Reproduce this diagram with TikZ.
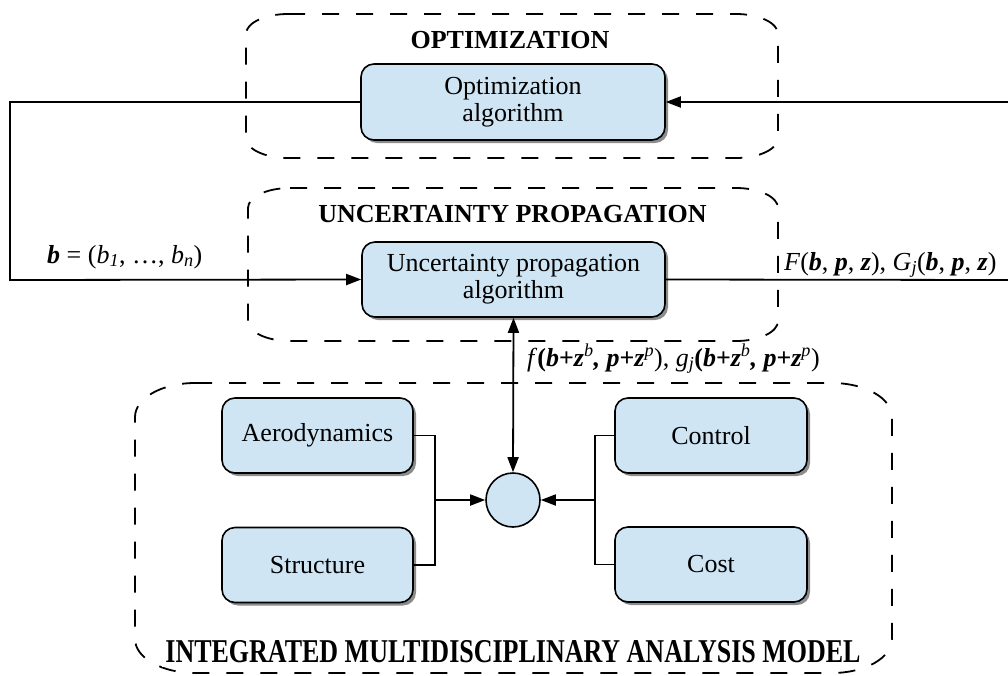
\documentclass[tikz,border=0pt]{standalone}
\usepackage{fontspec}
\usepackage{graphicx}
\setmainfont{Liberation Serif}
\usetikzlibrary{arrows.meta,shadows}
\definecolor{boxblue}{RGB}{207,229,244}
\newcommand\dashedframe[6]{%
  \draw[frame] (#1+#5,#2) -- (#3-#5,#2)
    .. controls (#3-0.448*#5,#2) and (#3,#2+0.448*#6) .. (#3,#2+#6)
    -- (#3,#4-#6)
    .. controls (#3,#4-0.448*#6) and (#3-0.448*#5,#4) .. (#3-#5,#4)
    -- (#1+#5,#4)
    .. controls (#1+0.448*#5,#4) and (#1,#4-0.448*#6) .. (#1,#4-#6)
    -- (#1,#2+#6)
    .. controls (#1,#2+0.448*#6) and (#1+0.448*#5,#2) .. cycle;}
\newcommand\bi[1]{\textbf{\textit{#1}}}
\begin{document}
\begin{tikzpicture}[x=1pt,y=-1pt,
  every node/.style={font=\fontsize{26}{27}\selectfont},
  frame/.style={draw=black, line width=1.8pt, dash pattern=on 17pt off 17pt},
  module/.style={draw=black, line width=1.6pt, fill=boxblue, rounded corners=13pt,
    align=center, inner sep=0pt,
    drop shadow={shadow xshift=3pt, shadow yshift=-3pt, fill=black!45, opacity=1}},
  title/.style={font=\fontsize{26}{27}\selectfont\bfseries, anchor=base},
  conn/.style={draw=black, line width=1.8pt},
  tip/.style={-{Triangle[length=15pt,width=11pt]}},
  lbl/.style={anchor=base west, inner sep=0pt}
]
\useasboundingbox (0,0) rectangle (1008,675);

% containers
\dashedframe{246}{14}{778}{158}{42}{20}
\dashedframe{248}{188}{778}{341}{42}{20}
\dashedframe{135}{383}{892}{673}{60}{34}

% titles
\node[title] (t1) at (510,48) {OPTIMIZATION};
\node[title] (t2) at (512.5,222) {UNCERTAINTY PROPAGATION};
\node[font=\fontsize{26}{27}\selectfont\bfseries, fill=white, inner xsep=3pt, inner ysep=4pt]
  (t3) at (513,652) {\scalebox{1}[1.28]{INTEGRATED MULTIDISCIPLINARY ANALYSIS MODEL}};

% modules
\node[module, minimum width=304pt, minimum height=76pt] (opt) at (513,102) {Optimization\\algorithm};
\node[module, minimum width=303pt, minimum height=75pt] (unc) at (513.5,279.5) {Uncertainty propagation\\algorithm};
\node[module, minimum width=191pt, minimum height=75pt] (aero) at (317.5,435.5) {Aerodynamics};
\node[module, minimum width=191pt, minimum height=75pt] (str) at (317.5,565) {Structure};
\node[module, minimum width=192pt, minimum height=75pt] (ctl) at (711,435.5) {Control};
\node[module, minimum width=192pt, minimum height=75pt] (cost) at (711,564.5) {Cost};
\node[circle, draw=black, line width=1.6pt, fill=boxblue, minimum size=54pt, inner sep=0pt] (hub) at (513,500) {};

% connector corner points
\coordinate (L1) at (10,102);
\coordinate (L2) at (10,280);
\coordinate (R1) at (1008,102);
\coordinate (R2) at (1008,280);
\coordinate (LB1) at (435,435.5);
\coordinate (LB2) at (435,565);
\coordinate (LM) at (435,500);
\coordinate (RB1) at (595,435.5);
\coordinate (RB2) at (595,564.5);
\coordinate (RM) at (595,500);

% connectors
\draw[conn, tip] (opt.west) -- (L1) -- (L2) -- (unc.west);
\draw[conn, tip] (R1) -- (opt.east);
\draw[conn] (unc.east) -- (R2);
\draw[conn, {Triangle[length=15pt,width=11pt]}-{Triangle[length=15pt,width=11pt]}] (unc.south) -- (hub.north);
\draw[conn] (aero.east) -- (LB1) -- (LB2) -- (str.east);
\draw[conn, tip] (LM) -- (hub.west);
\draw[conn] (ctl.west) -- (RB1) -- (RB2) -- (cost.west);
\draw[conn, tip] (RM) -- (hub.east);

% labels
\node[lbl] (lb) at (47,263) {\bi{b} = (\textit{b}\textsubscript{\textit{1}}, \dots, \textit{b}\textsubscript{\textit{n}})};
\node[lbl] (lF) at (784,270) {\textit{F}(\bi{b}, \bi{p}, \bi{z}), \textit{G}\textsubscript{\textit{j}}(\bi{b}, \bi{p}, \bi{z})};
\node[lbl] (lf) at (527,366) {\textit{f}\textbf{(}\bi{b}\textbf{+}\bi{z}\textsuperscript{\textit{b}}\bi{,\ p}\textbf{+}\bi{z}\textsuperscript{\textit{p}}), \textit{g}\textsubscript{\textit{j}}\textbf{(}\bi{b}\textbf{+}\bi{z}\textsuperscript{\textit{b}}\bi{,\ p}\textbf{+}\bi{z}\textsuperscript{\textit{p}})};
\end{tikzpicture}
\end{document}
